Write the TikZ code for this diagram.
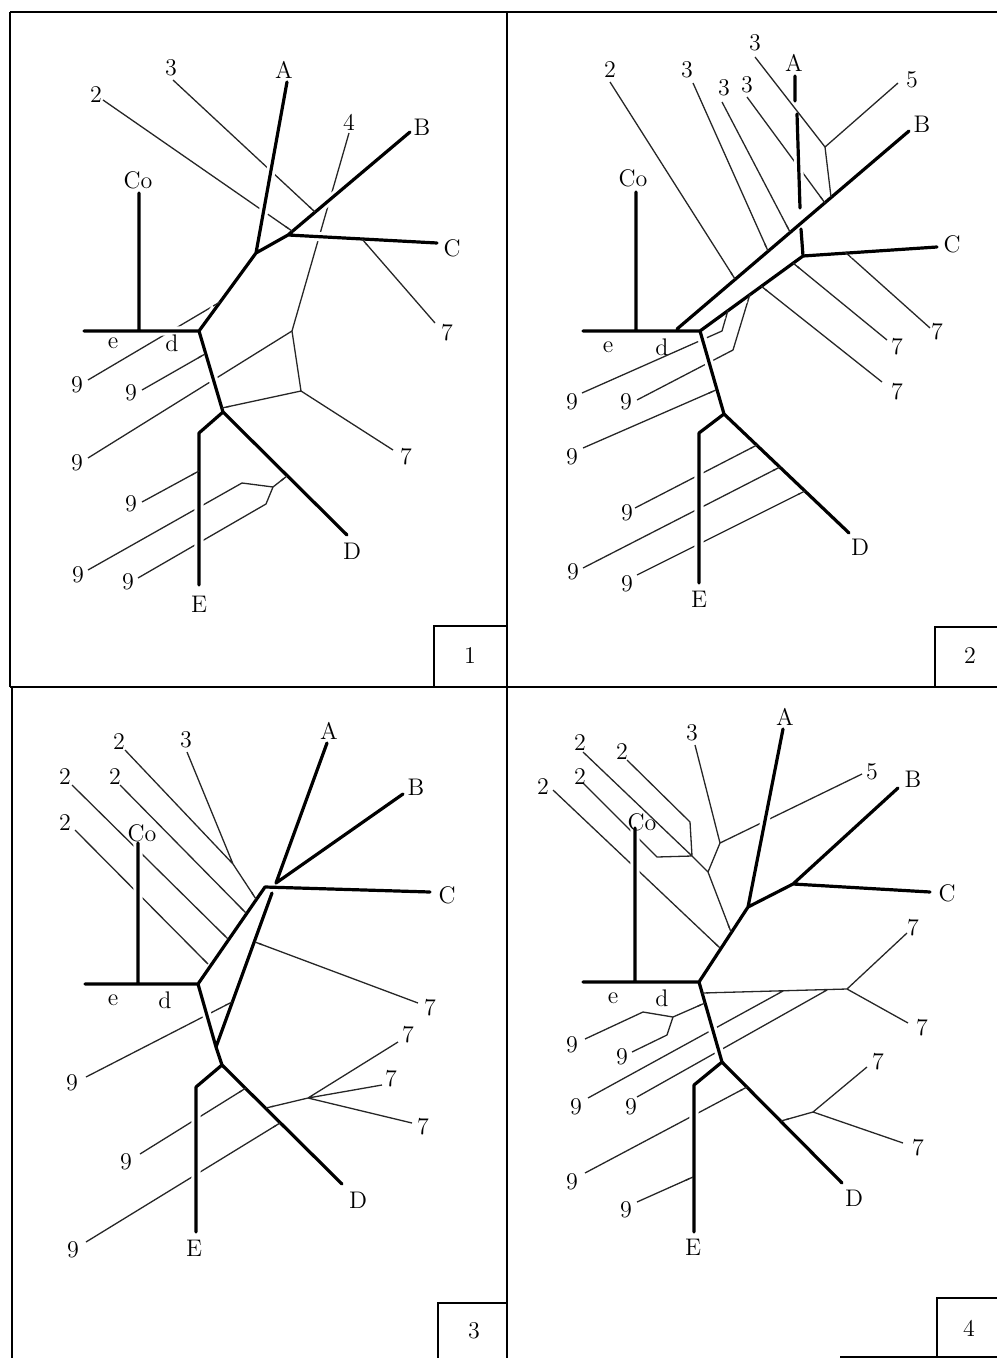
\documentclass[tikz,border=0pt]{standalone}
\usetikzlibrary{calc}
\tikzset{
  thk/.style={line width=1.6pt, line join=round, line cap=round},
  hal/.style={draw=white, line width=4.6pt, line join=round},
  thn/.style={line width=0.65pt, draw=black!85},
  lbl/.style={font=\fontsize{12}{14}\selectfont, inner sep=0pt},
  frm/.style={line width=1.1pt},
}
% thick branches: white halo first, then the stroke
\newcommand{\thickpath}[1]{\draw[hal] #1; \draw[thk] #1;}
% short thin piece that closes a thin line onto a thick one
\newcommand{\stub}[2]{\draw[thn] ($(#2)!4pt!(#1)$) -- (#2);}
\begin{document}
\begin{tikzpicture}[x=0.5pt, y=-0.5pt]
\useasboundingbox (0,0) rectangle (997,1358);
% frame and number boxes
\draw[frm] (10,12) -- (997,12) (10,12) -- (10,687) (12,687) -- (12,1358)
  (507,12) -- (507,1358) (10,687) -- (997,687);
\draw[frm] (434,687) -- (434,626) -- (507,626) (935,687) -- (935,627) -- (997,627)
  (438,1358) -- (438,1303) -- (507,1303) (937,1358) -- (937,1298) -- (997,1298)
  (840,1357) -- (997,1357);
\node[lbl] (box1) at (470,656) {1};
\node[lbl] (box2) at (970,656) {2};
\node[lbl] (box3) at (474,1331) {3};
\node[lbl] (box4) at (969,1328) {4};

% panel 1
\coordinate (p1e) at (84,331); \coordinate (p1d) at (199,331);
\coordinate (p1cot) at (139,193); \coordinate (p1cob) at (139,331);
\coordinate (p1n1) at (256,253); \coordinate (p1n2) at (288,235);
\coordinate (p1n3) at (223,412); \coordinate (p1Eb) at (199,433);
\coordinate (p1Ae) at (287,82); \coordinate (p1Be) at (410,132);
\coordinate (p1Ce) at (437,243); \coordinate (p1De) at (347,535);
\coordinate (p1Ee) at (199,585);
\coordinate (p1s2) at (103,100); \coordinate (p1t2) at (292,231);
\coordinate (p1s3) at (173,80); \coordinate (p1t3) at (315,212);
\coordinate (p1s4) at (349,133); \coordinate (p1k1) at (292,331);
\coordinate (p1k2) at (301,391); \coordinate (p1t7b) at (222,408);
\coordinate (p1s7b) at (393,450);
\coordinate (p1t7a) at (362,239); \coordinate (p1s7a) at (435,323);
\coordinate (p1s9a) at (88,380); \coordinate (p1t9a) at (220,302);
\coordinate (p1s9b) at (142,390); \coordinate (p1t9b) at (205,354);
\coordinate (p1s9c) at (88,458);
\coordinate (p1s9d) at (142,502); \coordinate (p1t9d) at (199,471);
\coordinate (p1s9e) at (88,570); \coordinate (p1m1) at (242,483);
\coordinate (p1m2) at (273,487); \coordinate (p1t9e) at (287,476);
\coordinate (p1m3) at (266,504); \coordinate (p1s9f) at (138,578);
\draw[thn] (p1s2) -- (p1t2) (p1s3) -- (p1t3) (p1s4) -- (p1k1) -- (p1k2) -- (p1s7b)
  (p1k2) -- (p1t7b) (p1s9c) -- (p1k1) (p1t7a) -- (p1s7a) (p1s9a) -- (p1t9a)
  (p1s9b) -- (p1t9b) (p1s9d) -- (p1t9d) (p1s9e) -- (p1m1) -- (p1m2) -- (p1t9e)
  (p1m2) -- (p1m3) -- (p1s9f);
\thickpath{(p1e) -- (p1d) -- (p1n1) -- (p1Ae) (p1n1) -- (p1n2) -- (p1Ce)
  (p1n2) -- (p1Be) (p1cot) -- (p1cob) (p1d) -- (p1n3) -- (p1Eb) -- (p1Ee)
  (p1n3) -- (p1De)}
\stub{p1s2}{p1t2} \stub{p1s3}{p1t3} \stub{p1k2}{p1t7b} \stub{p1s7a}{p1t7a}
\stub{p1s9a}{p1t9a} \stub{p1s9b}{p1t9b} \stub{p1s9d}{p1t9d} \stub{p1m2}{p1t9e}
\node[lbl] (p1lCo) at (138,180) {Co};
\node[lbl] (p1le) at (113,343) {e};
\node[lbl] (p1ld) at (172,343) {d};
\node[lbl] (p1lA) at (284,70) {A};
\node[lbl] (p1lB) at (422,127) {B};
\node[lbl] (p1lC) at (452,248) {C};
\node[lbl] (p1lD) at (352,551) {D};
\node[lbl] (p1lE) at (199,604) {E};
\node[lbl] (p1l2) at (96,95) {2};
\node[lbl] (p1l3) at (171,68) {3};
\node[lbl] (p1l4) at (349,122) {4};
\node[lbl] (p1l7a) at (447,333) {7};
\node[lbl] (p1l7b) at (406,457) {7};
\node[lbl] (p1l9a) at (77,385) {9};
\node[lbl] (p1l9b) at (131,393) {9};
\node[lbl] (p1l9c) at (77,463) {9};
\node[lbl] (p1l9d) at (131,504) {9};
\node[lbl] (p1l9e) at (78,575) {9};
\node[lbl] (p1l9f) at (128,582) {9};

% panel 2
\coordinate (p2e) at (583,331); \coordinate (p2d) at (700,331);
\coordinate (p2cot) at (636,192); \coordinate (p2cob) at (636,331);
\coordinate (p2Bs) at (677,329); \coordinate (p2Be) at (909,131);
\coordinate (p2n2) at (803,256); \coordinate (p2Ce) at (937,247);
\coordinate (p2Ae) at (795,76); \coordinate (p2a1) at (795,101);
\coordinate (p2a2) at (797,114); \coordinate (p2a3) at (800,208);
\coordinate (p2a4) at (801,229);
\coordinate (p2n3) at (724,414); \coordinate (p2Eb) at (699,433);
\coordinate (p2Ee) at (699,583); \coordinate (p2De) at (849,533);
\coordinate (p2s3t) at (755,57); \coordinate (p2j5) at (825,147);
\coordinate (p2s5) at (898,83); \coordinate (p2t5) at (831,197);
\coordinate (p2s2) at (610,82); \coordinate (p2t2) at (735,279);
\coordinate (p2s3a) at (693,83); \coordinate (p2t3a) at (768,251);
\coordinate (p2s3b) at (722,102); \coordinate (p2t3b) at (790,232);
\coordinate (p2s3c) at (747,97); \coordinate (p2t3c) at (825,203);
\coordinate (p2t7a) at (761,286); \coordinate (p2s7a) at (882,382);
\coordinate (p2t7b) at (793,263); \coordinate (p2s7b) at (887,340);
\coordinate (p2t7c) at (845,252); \coordinate (p2s7c) at (930,328);
\coordinate (p2s9a) at (582,393); \coordinate (p2g1) at (722,331);
\coordinate (p2t9a) at (728,310);
\coordinate (p2s9b) at (637,400); \coordinate (p2g2) at (733,350);
\coordinate (p2t9b) at (750,294);
\coordinate (p2s9c) at (583,448); \coordinate (p2t9c) at (716,390);
\coordinate (p2s9d) at (635,508); \coordinate (p2t9d) at (757,445);
\coordinate (p2s9e) at (583,568); \coordinate (p2t9e) at (780,467);
\coordinate (p2s9f) at (637,575); \coordinate (p2t9f) at (805,491);
\draw[thn] (p2s2) -- (p2t2) (p2s3a) -- (p2t3a) (p2s3b) -- (p2t3b) (p2s3c) -- (p2t3c)
  (p2t7a) -- (p2s7a) (p2t7b) -- (p2s7b) (p2t7c) -- (p2s7c)
  (p2s9a) -- (p2g1) -- (p2t9a) (p2s9b) -- (p2g2) -- (p2t9b) (p2s9c) -- (p2t9c)
  (p2s9d) -- (p2t9d) (p2s9e) -- (p2t9e) (p2s9f) -- (p2t9f);
\thickpath{(p2e) -- (p2d) -- (p2n3) -- (p2Eb) -- (p2Ee) (p2n3) -- (p2De)
  (p2cot) -- (p2cob) (p2Bs) -- (p2Be) (p2d) -- (p2n2) -- (p2Ce)
  (p2Ae) -- (p2a1) (p2a2) -- (p2a3) (p2a4) -- (p2n2)}
\draw[thn] (p2s3t) -- (p2j5) -- (p2s5) (p2j5) -- (p2t5);
\stub{p2s2}{p2t2} \stub{p2s3a}{p2t3a} \stub{p2s3b}{p2t3b} \stub{p2s3c}{p2t3c}
\stub{p2s7a}{p2t7a} \stub{p2s7b}{p2t7b} \stub{p2s7c}{p2t7c}
\stub{p2g1}{p2t9a} \stub{p2g2}{p2t9b} \stub{p2s9c}{p2t9c}
\stub{p2s9d}{p2t9d} \stub{p2s9e}{p2t9e} \stub{p2s9f}{p2t9f}
\node[lbl] (p2lCo) at (633,178) {Co};
\node[lbl] (p2le) at (608,347) {e};
\node[lbl] (p2ld) at (662,347) {d};
\node[lbl] (p2lA) at (794,63) {A};
\node[lbl] (p2lB) at (922,124) {B};
\node[lbl] (p2lC) at (952,244) {C};
\node[lbl] (p2lD) at (860,547) {D};
\node[lbl] (p2lE) at (699,599) {E};
\node[lbl] (p2l3t) at (755,43) {3};
\node[lbl] (p2l5) at (912,80) {5};
\node[lbl] (p2l2) at (610,70) {2};
\node[lbl] (p2l3a) at (687,70) {3};
\node[lbl] (p2l3b) at (724,88) {3};
\node[lbl] (p2l3c) at (747,85) {3};
\node[lbl] (p2l7c) at (937,332) {7};
\node[lbl] (p2l7b) at (897,347) {7};
\node[lbl] (p2l7a) at (897,392) {7};
\node[lbl] (p2l9a) at (572,402) {9};
\node[lbl] (p2l9b) at (626,402) {9};
\node[lbl] (p2l9c) at (572,457) {9};
\node[lbl] (p2l9d) at (627,513) {9};
\node[lbl] (p2l9e) at (573,572) {9};
\node[lbl] (p2l9f) at (627,584) {9};

% panel 3
\coordinate (p3e) at (85,984); \coordinate (p3d) at (198,984);
\coordinate (p3cot) at (138,843); \coordinate (p3cob) at (138,984);
\coordinate (p3n1) at (265,887); \coordinate (p3Ce) at (430,892);
\coordinate (p3n0) at (276,883); \coordinate (p3Ae) at (327,743);
\coordinate (p3Be) at (403,794);
\coordinate (p3w) at (272,893); \coordinate (p3v) at (216,1047);
\coordinate (p3n3) at (222,1065); \coordinate (p3Eb) at (196,1087);
\coordinate (p3Ee) at (196,1232); \coordinate (p3De) at (342,1184);
\coordinate (p3s2a) at (125,750); \coordinate (p3j) at (233,864);
\coordinate (p3t2a) at (256,899); \coordinate (p3s3) at (187,752);
\coordinate (p3s2b) at (120,785); \coordinate (p3t2b) at (246,913);
\coordinate (p3s2c) at (72,785); \coordinate (p3t2c) at (228,939);
\coordinate (p3s2d) at (75,830); \coordinate (p3t2d) at (208,964);
\coordinate (p3t7) at (255,942); \coordinate (p3s7) at (418,1003);
\coordinate (p3s9a) at (86,1077); \coordinate (p3t9a) at (232,1002);
\coordinate (p3t7r) at (266,1108); \coordinate (p3h) at (308,1098);
\coordinate (p3s7x) at (398,1042); \coordinate (p3s7y) at (382,1085);
\coordinate (p3s7z) at (412,1123);
\coordinate (p3s9b) at (140,1154); \coordinate (p3t9b) at (246,1088);
\coordinate (p3s9c) at (86,1242); \coordinate (p3t9c) at (280,1123);
\draw[thn] (p3s2a) -- (p3j) -- (p3t2a) (p3s3) -- (p3j) (p3s2b) -- (p3t2b)
  (p3s2c) -- (p3t2c) (p3s2d) -- (p3t2d) (p3t7) -- (p3s7) (p3s9a) -- (p3t9a)
  (p3t7r) -- (p3h) -- (p3s7x) (p3h) -- (p3s7y) (p3h) -- (p3s7z)
  (p3s9b) -- (p3t9b) (p3s9c) -- (p3t9c);
\thickpath{(p3e) -- (p3d) -- (p3n1) -- (p3Ce) (p3cot) -- (p3cob)
  (p3n0) -- (p3Ae) (p3n0) -- (p3Be) (p3w) -- (p3v)
  (p3d) -- (p3v) -- (p3n3) -- (p3Eb) -- (p3Ee) (p3n3) -- (p3De)}
\stub{p3j}{p3t2a} \stub{p3s2b}{p3t2b} \stub{p3s2c}{p3t2c} \stub{p3s2d}{p3t2d}
\stub{p3s7}{p3t7} \stub{p3s9a}{p3t9a} \stub{p3h}{p3t7r}
\stub{p3s9b}{p3t9b} \stub{p3s9c}{p3t9c}
\node[lbl] (p3lCo) at (142,833) {Co};
\node[lbl] (p3le) at (113,1000) {e};
\node[lbl] (p3ld) at (165,1000) {d};
\node[lbl] (p3lA) at (329,731) {A};
\node[lbl] (p3lB) at (416,787) {B};
\node[lbl] (p3lC) at (447,895) {C};
\node[lbl] (p3lD) at (358,1200) {D};
\node[lbl] (p3lE) at (194,1248) {E};
\node[lbl] (p3l2a) at (119,742) {2};
\node[lbl] (p3l3) at (186,740) {3};
\node[lbl] (p3l2b) at (115,777) {2};
\node[lbl] (p3l2c) at (65,777) {2};
\node[lbl] (p3l2d) at (65,823) {2};
\node[lbl] (p3l7) at (430,1008) {7};
\node[lbl] (p3l7x) at (408,1035) {7};
\node[lbl] (p3l7y) at (391,1079) {7};
\node[lbl] (p3l7z) at (423,1127) {7};
\node[lbl] (p3l9a) at (72,1083) {9};
\node[lbl] (p3l9b) at (126,1162) {9};
\node[lbl] (p3l9c) at (73,1250) {9};

% panel 4
\coordinate (p4e) at (583,982); \coordinate (p4d) at (699,982);
\coordinate (p4cot) at (635,828); \coordinate (p4cob) at (635,982);
\coordinate (p4n1) at (748,907); \coordinate (p4n2) at (793,884);
\coordinate (p4Ce) at (930,892); \coordinate (p4Ae) at (783,729);
\coordinate (p4Be) at (898,788);
\coordinate (p4n3) at (722,1062); \coordinate (p4Eb) at (694,1085);
\coordinate (p4Ee) at (694,1232); \coordinate (p4De) at (842,1183);
\coordinate (p4s2a) at (627,760); \coordinate (p4q1) at (690,822);
\coordinate (p4j1) at (692,856); \coordinate (p4s2b) at (583,752);
\coordinate (p4s2c) at (583,783); \coordinate (p4q2) at (657,857);
\coordinate (p4j2) at (708,872); \coordinate (p4t2) at (731,932);
\coordinate (p4s3) at (695,745); \coordinate (p4j3) at (720,843);
\coordinate (p4s5) at (862,774);
\coordinate (p4s2d) at (553,790); \coordinate (p4t2d) at (720,948);
\coordinate (p4th) at (702,993); \coordinate (p4k) at (847,989);
\coordinate (p4s7a) at (907,933); \coordinate (p4s7b) at (908,1023);
\coordinate (p4s9a) at (585,1039); \coordinate (p4r1) at (643,1012);
\coordinate (p4g) at (673,1017); \coordinate (p4tg) at (705,1003);
\coordinate (p4s9b) at (632,1052); \coordinate (p4r2) at (667,1035);
\coordinate (p4s9c) at (588,1098); \coordinate (p4t9c) at (783,991);
\coordinate (p4s9d) at (637,1097); \coordinate (p4t9d) at (827,990);
\coordinate (p4s9e) at (585,1173); \coordinate (p4t9e) at (747,1087);
\coordinate (p4s9f) at (637,1202); \coordinate (p4t9f) at (693,1177);
\coordinate (p4t7) at (781,1121); \coordinate (p4m) at (813,1112);
\coordinate (p4s7c) at (867,1067); \coordinate (p4s7d) at (903,1143);
\draw[thn] (p4s2a) -- (p4q1) -- (p4j1) (p4s2b) -- (p4j1)
  (p4s2c) -- (p4q2) -- (p4j1) -- (p4j2) -- (p4t2)
  (p4s3) -- (p4j3) -- (p4s5) (p4j3) -- (p4j2) (p4s2d) -- (p4t2d)
  (p4th) -- (p4k) -- (p4s7a) (p4k) -- (p4s7b)
  (p4s9a) -- (p4r1) -- (p4g) -- (p4tg) (p4s9b) -- (p4r2) -- (p4g)
  (p4s9c) -- (p4t9c) (p4s9d) -- (p4t9d) (p4s9e) -- (p4t9e) (p4s9f) -- (p4t9f)
  (p4t7) -- (p4m) -- (p4s7c) (p4m) -- (p4s7d);
\thickpath{(p4e) -- (p4d) -- (p4n1) -- (p4n2) -- (p4Ce) (p4n1) -- (p4Ae)
  (p4n2) -- (p4Be) (p4cot) -- (p4cob) (p4d) -- (p4n3) -- (p4Eb) -- (p4Ee)
  (p4n3) -- (p4De)}
\stub{p4j2}{p4t2} \stub{p4s2d}{p4t2d} \stub{p4k}{p4th} \stub{p4g}{p4tg}
\stub{p4s9e}{p4t9e} \stub{p4s9f}{p4t9f} \stub{p4m}{p4t7}
\node[lbl] (p4lCo) at (642,822) {Co};
\node[lbl] (p4le) at (613,998) {e};
\node[lbl] (p4ld) at (662,998) {d};
\node[lbl] (p4lA) at (785,717) {A};
\node[lbl] (p4lB) at (913,779) {B};
\node[lbl] (p4lC) at (947,893) {C};
\node[lbl] (p4lD) at (854,1198) {D};
\node[lbl] (p4lE) at (693,1247) {E};
\node[lbl] (p4l2a) at (622,752) {2};
\node[lbl] (p4l2b) at (580,743) {2};
\node[lbl] (p4l2c) at (580,777) {2};
\node[lbl] (p4l2d) at (543,787) {2};
\node[lbl] (p4l3) at (692,733) {3};
\node[lbl] (p4l5) at (872,772) {5};
\node[lbl] (p4l7a) at (913,928) {7};
\node[lbl] (p4l7b) at (922,1028) {7};
\node[lbl] (p4l7c) at (878,1062) {7};
\node[lbl] (p4l7d) at (918,1148) {7};
\node[lbl] (p4l9a) at (572,1045) {9};
\node[lbl] (p4l9b) at (622,1057) {9};
\node[lbl] (p4l9c) at (576,1107) {9};
\node[lbl] (p4l9d) at (631,1107) {9};
\node[lbl] (p4l9e) at (572,1182) {9};
\node[lbl] (p4l9f) at (626,1210) {9};
\end{tikzpicture}
\end{document}
